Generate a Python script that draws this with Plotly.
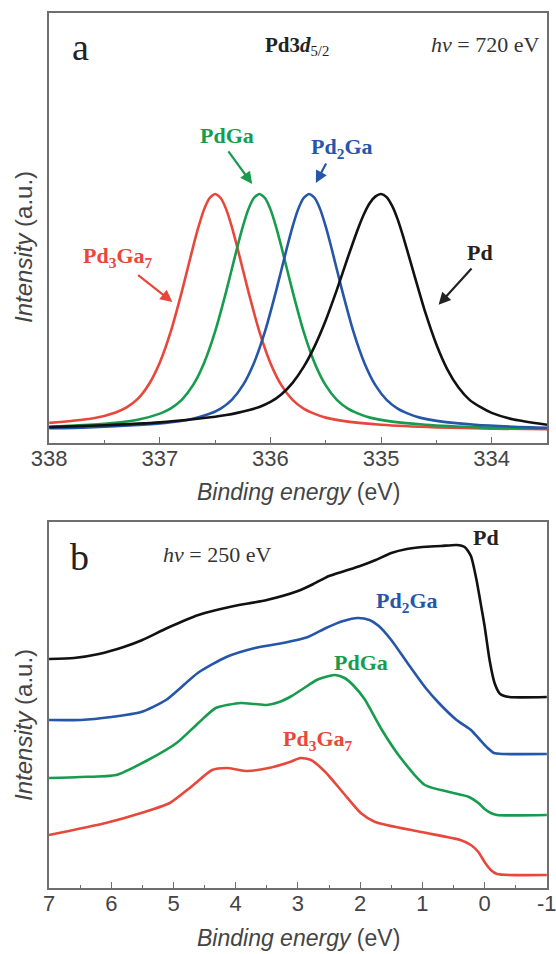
import plotly.graph_objects as go

# ---------------- Panel a: Pd 3d5/2 core levels (hv = 720 eV) ----------------
pd3ga7_x = [338.0, 337.8, 337.6, 337.4, 337.3, 337.2, 337.1, 337.0, 336.9, 336.8, 336.7, 336.65, 336.6,
            336.55, 336.5, 336.45, 336.4, 336.35, 336.3, 336.2, 336.1, 336.0, 335.9, 335.8, 335.7,
            335.6, 335.5, 335.3, 335.0, 334.5, 334.0, 333.5]
pd3ga7_y = [0.034, 0.042, 0.053, 0.078, 0.099, 0.135, 0.196, 0.289, 0.421, 0.59, 0.776, 0.862, 0.935,
            0.983, 1.0, 0.983, 0.935, 0.862, 0.775, 0.589, 0.419, 0.286, 0.192, 0.131, 0.094,
            0.072, 0.056, 0.039, 0.026, 0.015, 0.0096, 0.0067]

pdga_x = [338.0, 337.6, 337.4, 337.2, 337.0, 336.9, 336.8, 336.7, 336.6, 336.5, 336.4, 336.3, 336.25,
          336.2, 336.15, 336.1, 336.05, 336.0, 335.95, 335.9, 335.8, 335.7, 335.6, 335.5, 335.4,
          335.3, 335.2, 335.1, 334.9, 334.6, 334.1, 333.5]
pdga_y = [0.017, 0.027, 0.034, 0.047, 0.073, 0.095, 0.132, 0.193, 0.287, 0.42, 0.589, 0.775, 0.862,
          0.935, 0.983, 1.0, 0.983, 0.935, 0.862, 0.775, 0.589, 0.419, 0.286, 0.192, 0.131,
          0.094, 0.072, 0.056, 0.039, 0.026, 0.015, 0.009]

pd2ga_x = [338.0, 337.65, 337.15, 336.95, 336.75, 336.55, 336.45, 336.35, 336.25, 336.15, 336.05,
           335.95, 335.85, 335.8, 335.75, 335.7, 335.65, 335.6, 335.55, 335.5, 335.45, 335.35,
           335.25, 335.15, 335.05, 334.95, 334.85, 334.75, 334.65, 334.45, 334.15, 333.65, 333.5]
pd2ga_y = [0.011, 0.015, 0.026, 0.034, 0.046, 0.072, 0.094, 0.131, 0.192, 0.286, 0.419,
           0.589, 0.775, 0.862, 0.935, 0.983, 1.0, 0.983, 0.935, 0.862, 0.775, 0.589,
           0.419, 0.286, 0.192, 0.131, 0.094, 0.072, 0.056, 0.039, 0.026, 0.015, 0.013]

pd_x = [338.0, 337.5, 337.0, 336.7, 336.5, 336.4, 336.3, 336.2, 336.1, 336.0, 335.9, 335.8, 335.7,
        335.6, 335.5, 335.4, 335.3, 335.2, 335.15, 335.1, 335.05, 335.0, 334.95, 334.9, 334.85,
        334.8, 334.7, 334.6, 334.5, 334.4, 334.3, 334.2, 334.1, 334.0, 333.8, 333.5]
pd_y = [0.016, 0.024, 0.036, 0.049, 0.06, 0.067, 0.076, 0.087, 0.101, 0.122, 0.155, 0.203, 0.27,
        0.358, 0.467, 0.595, 0.733, 0.864, 0.92, 0.963, 0.99, 1.0, 0.987, 0.95, 0.893,
        0.82, 0.659, 0.5, 0.365, 0.259, 0.183, 0.131, 0.1, 0.076, 0.048, 0.026]

# ---------------- Panel b: valence band (hv = 250 eV), offset curves ----------------
vb_pd_x = [7.0, 6.6, 6.2, 5.8, 5.5, 5.1, 4.6, 4.1, 3.5, 3.0, 2.75, 2.5, 2.25, 2.0, 1.75, 1.5,
           1.25, 1.0, 0.7, 0.45, 0.32, 0.22, 0.13, 0.05, 0.0, -0.08, -0.16, -0.25, -0.4, -1.0]
vb_pd_y = [229, 230, 234, 241, 248, 260, 273, 281, 288, 297, 304, 312, 317, 322, 328, 335,
           339, 341, 342, 343, 341, 332, 308, 280, 262, 228, 205, 194, 191, 191]

vb_pd2ga_x = [7.0, 6.49, 6.0, 5.52, 5.12, 4.61, 4.15, 3.69, 3.24, 2.84, 2.55, 2.27, 2.04, 1.85,
              1.7, 1.5, 1.24, 0.96, 0.75, 0.45, 0.22, 0.1, -0.05, -0.15, -0.3, -1.0]
vb_pd2ga_y = [168, 168, 171, 176, 188, 215, 231, 240, 245, 251, 260, 267, 270, 268,
              262, 248, 225, 201, 186, 168, 158, 150, 140, 135, 134, 134]

vb_pdga_x = [7.0, 6.5, 5.92, 5.41, 4.95, 4.6, 4.32, 3.92, 3.7, 3.5, 3.3, 3.1, 2.9, 2.7, 2.5, 2.4,
             2.25, 2.1, 1.93, 1.65, 1.36, 0.96, 0.57, 0.25, 0.1, 0.0, -0.1, -0.2, -1.0]
vb_pdga_y = [110, 111, 113, 128, 145, 165, 180, 185, 184, 183, 186, 192, 200, 208, 212, 213,
             210, 202, 189, 158, 131, 103, 96, 91, 85, 79, 75, 73, 73]

vb_pd3ga7_x = [7.0, 6.09, 5.52, 5.06, 4.72, 4.38, 4.15, 3.81, 3.47, 3.13, 2.96, 2.79, 2.56,
               2.27, 1.99, 1.76, 1.02, 0.39, 0.22, 0.1, 0.0, -0.1, -0.2, -1.0]
vb_pd3ga7_y = [53, 65, 75, 85, 101, 118, 120, 117, 120, 126, 130, 128, 116,
               95, 75, 66, 56, 48, 43, 36, 26, 18, 14, 13]

# tick labels
top_tickvals = [338, 337, 336, 335, 334]
top_ticktext = ["338", "337", "336", "335", "334"]
bot_tickvals = [7, 6, 5, 4, 3, 2, 1, 0, -1]
bot_ticktext = ["7", "6", "5", "4", "3", "2", "1", "0", "-1"]

RED = "#e8473c"
GREEN = "#169c4c"
BLUE = "#2556a8"
BLACK = "#111111"
AXC = "#6e6e6e"
TXT = "#444444"
SERIF = "Liberation Serif, Times New Roman, serif"
SANS = "Liberation Sans, Arial, sans-serif"

fig = go.Figure()
LW = 2.6
for xs, ys, c in [(pd3ga7_x, pd3ga7_y, RED), (pdga_x, pdga_y, GREEN),
                  (pd2ga_x, pd2ga_y, BLUE), (pd_x, pd_y, BLACK)]:
    fig.add_trace(go.Scatter(x=xs, y=ys, mode="lines", line=dict(color=c, width=LW, shape="spline", smoothing=0.6),
                             xaxis="x", yaxis="y", showlegend=False, hoverinfo="skip"))

for xs, ys, c in [(vb_pd_x, vb_pd_y, BLACK), (vb_pd2ga_x, vb_pd2ga_y, BLUE),
                  (vb_pdga_x, vb_pdga_y, GREEN), (vb_pd3ga7_x, vb_pd3ga7_y, RED)]:
    fig.add_trace(go.Scatter(x=xs, y=ys, mode="lines", line=dict(color=c, width=LW, shape="spline", smoothing=0.6),
                             xaxis="x2", yaxis="y2", showlegend=False, hoverinfo="skip"))

axis_common = dict(showline=True, linecolor=AXC, linewidth=1.6, mirror=True, showgrid=False,
                   zeroline=False, automargin=False)
xcommon = dict(axis_common, ticks="inside", ticklen=6, tickwidth=1.4, tickcolor=AXC,
               tickfont=dict(family=SANS, size=22, color=TXT), ticklabelstandoff=-5,
               ticklabeloverflow="allow", tickmode="array",
               minor=dict(ticks="inside", ticklen=3.5, tickwidth=1.2, tickcolor=AXC, dtick=0.5,
                          tickmode="linear", showgrid=False))

fig.update_layout(
    width=556, height=954,
    margin=dict(l=49, r=9, t=13, b=66, autoexpand=False),
    paper_bgcolor="white", plot_bgcolor="white",
    xaxis=dict(xcommon, range=[338.002, 333.5], tickvals=top_tickvals, ticktext=top_ticktext, anchor="y"),
    yaxis=dict(axis_common, range=[-0.051, 1.764], domain=[0.5086, 1.0], showticklabels=False, ticks="", anchor="x"),
    xaxis2=dict(xcommon, range=[7.001, -1.003], tickvals=bot_tickvals, ticktext=bot_ticktext, anchor="y2"),
    yaxis2=dict(axis_common, range=[0, 366], domain=[0.0, 0.4183], showticklabels=False, ticks="", anchor="x2"),
)

ann = []
def txt(x, y, text, size, color, xref="x", yref="y", family=SERIF, xanchor="center", textangle=0):
    ann.append(dict(x=x, y=y, xref=xref, yref=yref, text=text, showarrow=False,
                    font=dict(family=family, size=size, color=color), xanchor=xanchor,
                    yanchor="middle", textangle=textangle))

def arrow(x0, y0, x1, y1, color, xref="x", yref="y"):
    ann.append(dict(x=x1, y=y1, ax=x0, ay=y0, xref=xref, yref=yref, axref=xref, ayref=yref,
                    text="", showarrow=True, arrowhead=2, arrowsize=1.1, arrowwidth=2.2,
                    arrowcolor=color, standoff=0, startstandoff=0))

# panel a texts
txt(337.72, 1.62, "a", 38, "#222222")
txt(335.76, 1.624, "<b>Pd3<i>d</i></b><sub>5/2</sub>", 21, "#222222")
txt(333.55, 1.632, "<i>hv</i> = 720 eV", 22, "#333333", xanchor="right")
txt(336.39, 1.245, "<b>PdGa</b>", 22, GREEN)
arrow(336.39, 1.186, 336.165, 1.042, GREEN)
txt(335.35, 1.194, "<b>Pd<sub>2</sub>Ga</b>", 22, BLUE)
arrow(335.49, 1.135, 335.59, 1.046, BLUE)
txt(337.38, 0.734, "<b>Pd<sub>3</sub>Ga<sub>7</sub></b>", 22, RED)
arrow(337.21, 0.662, 336.886, 0.544, RED)
txt(334.11, 0.755, "<b>Pd</b>", 22, "#222222")
arrow(334.17, 0.692, 334.48, 0.532, "#222222")

# panel b texts
txt(6.51, 331, "b", 38, "#222222", xref="x2", yref="y2")
txt(4.30, 333, "<i>hv</i> = 250 eV", 22, "#333333", xref="x2", yref="y2")
txt(-0.03, 350, "<b>Pd</b>", 22, "#222222", xref="x2", yref="y2")
txt(1.25, 286, "<b>Pd<sub>2</sub>Ga</b>", 22, BLUE, xref="x2", yref="y2")
txt(1.98, 225, "<b>PdGa</b>", 22, GREEN, xref="x2", yref="y2")
txt(2.67, 148, "<b>Pd<sub>3</sub>Ga<sub>7</sub></b>", 22, RED, xref="x2", yref="y2")

# axis titles
xt = "<i>Binding energy</i> (eV)"
yt = "<i>Intensity</i> (a.u.)"
txt(0.5, 0.4526, xt, 23, TXT, xref="paper", yref="paper", family=SANS)
txt(0.5, -0.0571, xt, 23, TXT, xref="paper", yref="paper", family=SANS)
txt(-0.0502, 0.7326, yt, 24, TXT, xref="paper", yref="paper", family=SANS, textangle=-90)
txt(-0.0502, 0.1863, yt, 24, TXT, xref="paper", yref="paper", family=SANS, textangle=-90)

fig.update_layout(annotations=ann)
fig.write_html("out.html")
